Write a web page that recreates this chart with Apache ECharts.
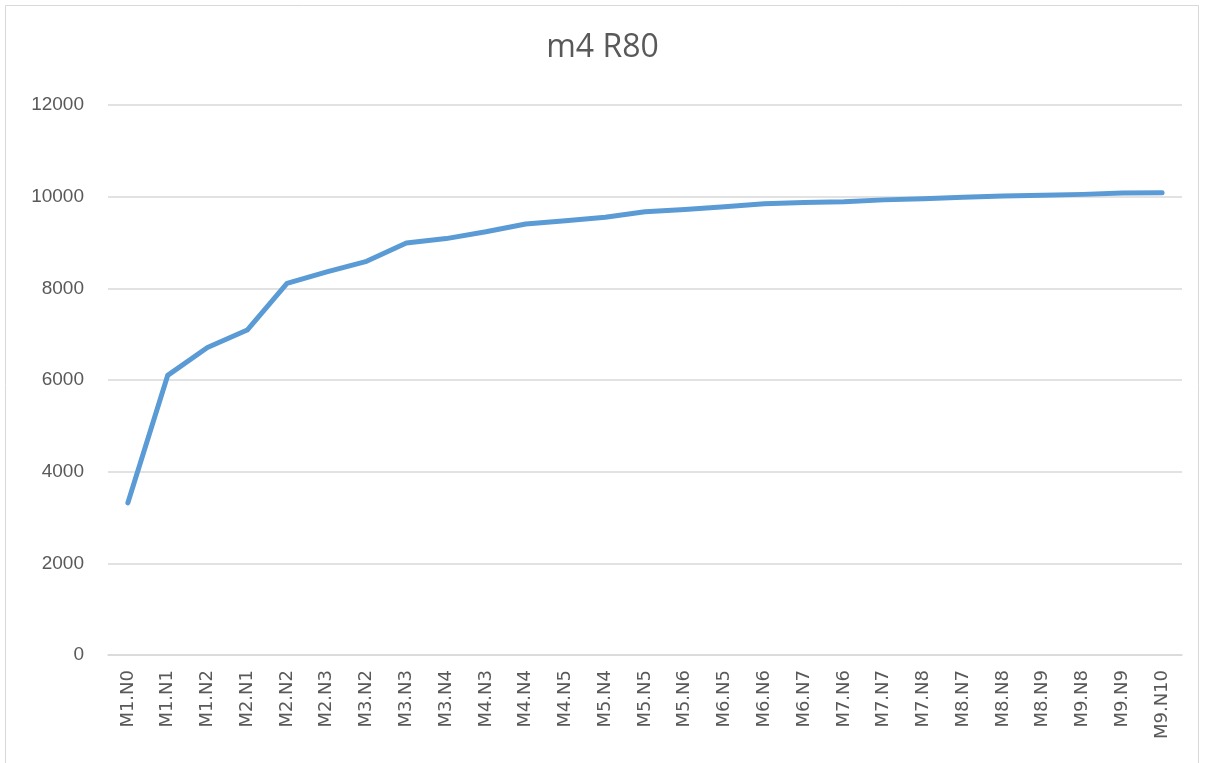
<!DOCTYPE html>
<html>
<head>
<meta charset="utf-8">
<script src="https://cdn.jsdelivr.net/npm/echarts@6/dist/echarts.min.js"></script>
<style>
html,body{margin:0;padding:0;background:#fff;}
#chart{width:1205px;height:763px;}
</style>
</head>
<body>
<div id="chart"></div>
<script>
const categories = ["M1.N0","M1.N1","M1.N2","M2.N1","M2.N2","M2.N3","M3.N2","M3.N3","M3.N4","M4.N3","M4.N4","M4.N5","M5.N4","M5.N5","M5.N6","M6.N5","M6.N6","M6.N7","M7.N6","M7.N7","M7.N8","M8.N7","M8.N8","M8.N9","M9.N8","M9.N9","M9.N10"];
const values = [3320,6100,6710,7090,8110,8360,8590,8990,9085,9235,9405,9475,9550,9670,9720,9780,9845,9875,9890,9930,9955,9985,10015,10030,10050,10080,10085];
const yTicks = {min:0, max:12000, interval:2000};
const titleText = "m4 R80";

const chart = echarts.init(document.getElementById('chart'));
chart.setOption({
  backgroundColor:'#ffffff',
  animation:false,
  title:{text:titleText,left:'center',top:27,textStyle:{fontFamily:'Open Sans',fontSize:32,fontWeight:'normal',color:'#595959'}},
  graphic:[{type:'rect',shape:{x:5.5,y:5.5,width:1193,height:770},style:{fill:'none',stroke:'#d9d9d9',lineWidth:1},silent:true}],
  grid:{left:108,right:23,top:105,bottom:108},
  xAxis:{type:'category',data:categories,boundaryGap:true,
    axisLine:{lineStyle:{color:'#d9d9d9',width:1.5}},axisTick:{show:false},
    axisLabel:{rotate:90,interval:0,color:'#595959',fontFamily:'DejaVu Sans',fontSize:18,margin:15}},
  yAxis:{type:'value',min:yTicks.min,max:yTicks.max,interval:yTicks.interval,
    axisLine:{show:false},axisTick:{show:false},
    splitLine:{lineStyle:{color:'#d9d9d9',width:1.5}},
    axisLabel:{color:'#595959',fontFamily:'Liberation Sans',fontSize:19,margin:24,formatter:function(v){return String(v);}}},
  series:[{type:'line',data:values,symbol:'none',
    lineStyle:{color:'#5b9bd5',width:5,cap:'round',join:'round'}}]
});
</script>
</body>
</html>
